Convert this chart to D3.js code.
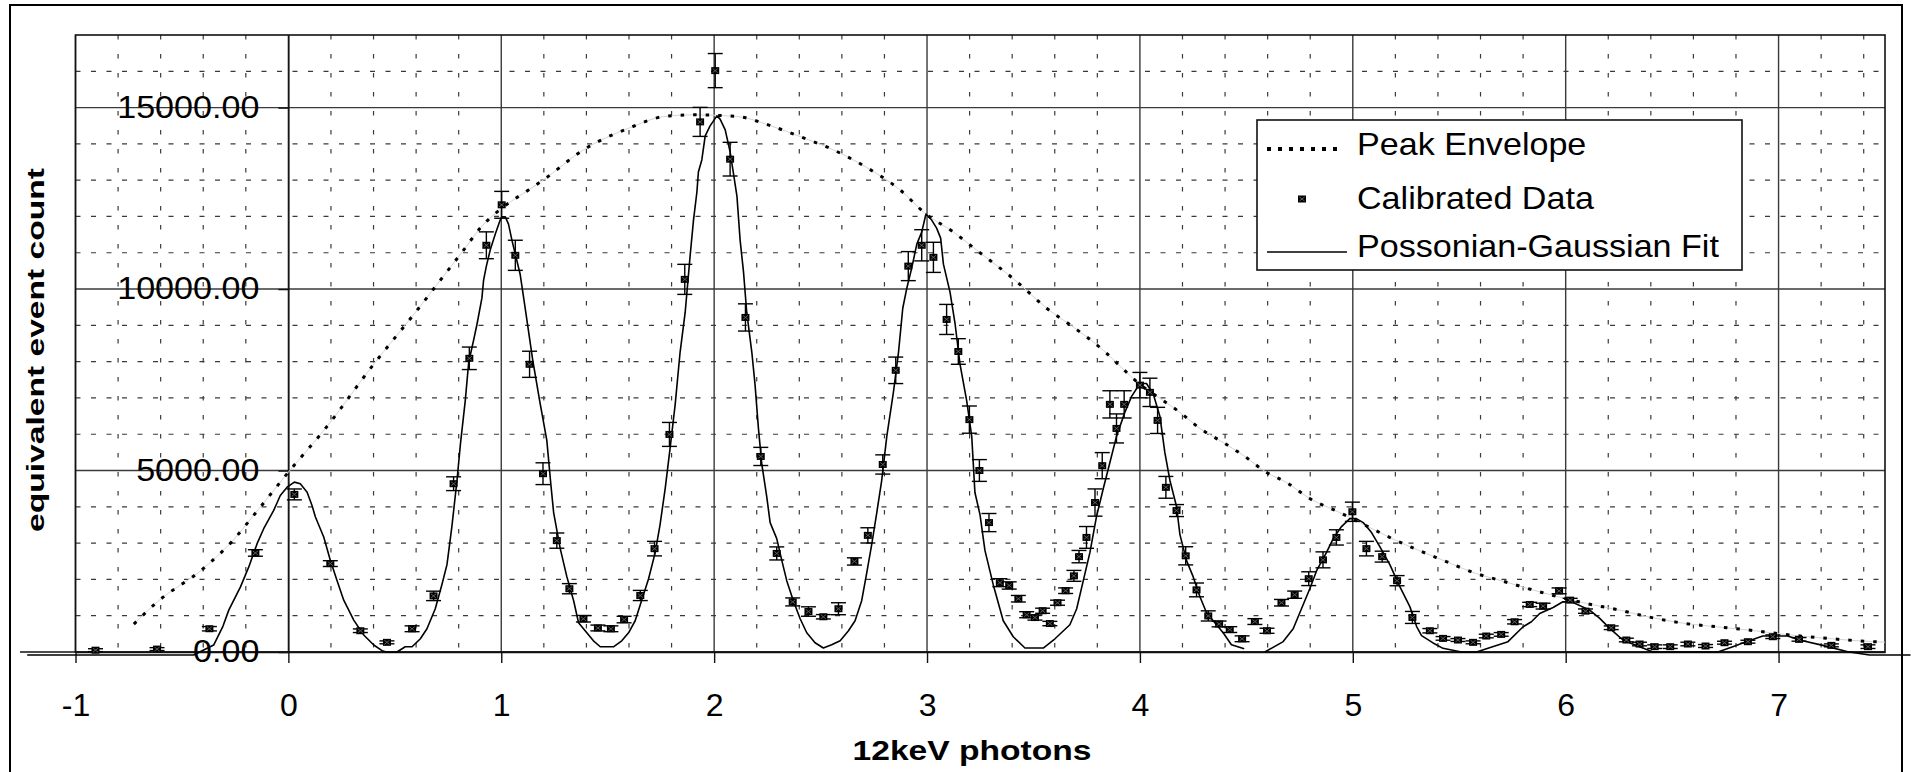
<!DOCTYPE html>
<html>
<head>
<meta charset="utf-8">
<script src="https://cdn.jsdelivr.net/npm/d3@7"></script>
<style>
  body { margin: 0; background: #fff; }
  svg { display: block; font-family: "Liberation Sans", Arial, sans-serif; }
</style>
</head>
<body>
<div class="forSvg"></div>
<script>
// -DATA-
// calibrated data points: position, count, error bar half height
const dataX = [-0.906,-0.617,-0.371,-0.155,0.028,0.197,0.338,0.463,0.581,0.682,
  0.776,0.850,0.930,1.002,1.066,1.133,1.196,1.261,1.320,1.386,
  1.454,1.515,1.577,1.653,1.720,1.790,1.862,1.934,2.005,2.075,
  2.147,2.219,2.294,2.369,2.443,2.513,2.584,2.659,2.722,2.792,
  2.853,2.912,2.975,3.030,3.092,3.147,3.199,3.246,3.291,3.342,
  3.386,3.429,3.468,3.507,3.543,3.577,3.613,3.651,3.690,3.714,
  3.749,3.789,3.823,3.859,3.890,3.926,4.000,4.047,4.083,4.122,
  4.172,4.215,4.266,4.321,4.372,4.422,4.480,4.540,4.597,4.665,
  4.727,4.793,4.860,4.923,4.998,5.064,5.138,5.208,5.280,5.362,
  5.424,5.494,5.565,5.627,5.697,5.760,5.831,5.894,5.969,6.021,
  6.093,6.214,6.285,6.347,6.418,6.491,6.574,6.657,6.746,6.856,
  6.973,7.096,7.248,7.420];
const dataY = [50,80,641,2729,4342,2436,586,266,640,1546,
  4637,8092,11206,12321,10930,7927,4913,3069,1744,916,
  662,640,894,1557,2848,5995,10267,14606,16019,13579,
  9218,5388,2716,1380,1115,971,1192,2495,3213,5167,
  7761,10632,11206,10874,9163,8280,6403,5001,3566,1910,
  1833,1468,1027,949,1137,784,1358,1689,2098,2628,
  3157,4118,5134,6823,6160,6823,7353,7154,6381,4537,
  3897,2650,1711,994,773,618,364,839,585,1358,
  1579,2020,2539,3157,3864,2848,2628,1965,952,586,
  375,330,266,440,485,833,1310,1264,1685,1429,
  1126,668,330,220,147,147,220,165,256,284,
  421,348,183,147];
const dataErr = [40,40,60,90,150,80,50,40,80,130,
  190,310,370,370,415,360,300,210,140,90,
  80,80,90,140,200,330,414,400,470,464,
  375,250,180,110,130,60,165,100,210,265,
  365,400,430,415,414,353,375,300,250,110,
  100,90,83,70,70,60,70,77,150,170,
  300,375,360,375,400,375,350,390,360,300,
  165,250,190,140,80,80,80,80,70,90,
  100,190,220,210,265,200,150,140,165,60,
  50,40,40,50,50,60,60,80,80,50,
  60,50,50,50,50,50,50,40,40,40,
  50,50,40,50];

// possonian-gaussian fit (null = gap in the line)
const fitX = [-1.227,-0.445,-0.351,-0.307,-0.280,-0.225,-0.186,-0.147,-0.116,-0.069,
  -0.038,-0.006,0.028,0.056,0.088,0.111,0.127,0.166,0.197,0.228,
  0.260,0.307,0.354,0.401,0.440,0.460,0.510,0.549,0.581,0.620,
  0.651,0.690,0.721,0.745,0.768,0.792,0.808,0.831,0.847,0.870,
  0.886,0.909,0.917,0.930,0.948,0.972,0.995,1.003,1.019,1.034,
  1.050,1.089,1.113,1.148,1.180,1.214,1.233,1.246,1.277,1.308,
  1.340,1.363,1.394,1.433,1.465,1.527,1.566,1.598,1.629,1.653,
  1.692,1.723,1.746,1.770,1.793,1.817,1.840,1.864,1.887,1.903,
  1.919,1.926,1.942,1.958,1.981,2.013,2.028,2.052,2.075,2.091,
  2.107,2.122,2.138,2.153,2.177,2.192,2.208,2.224,2.247,2.263,
  2.294,2.318,2.341,2.372,2.404,2.435,2.474,2.513,2.552,2.592,
  2.631,2.662,2.693,2.717,2.740,2.764,2.787,2.811,2.842,2.866,
  2.886,2.905,2.928,2.952,2.975,2.995,3.022,3.045,3.064,3.077,
  3.108,3.132,3.155,3.186,3.210,3.225,3.249,3.272,3.311,3.358,
  3.405,3.460,3.546,3.601,3.671,3.703,3.734,3.765,3.796,3.828,
  3.859,3.890,3.929,3.961,4.000,4.031,4.063,4.094,4.117,4.141,
  4.172,4.188,4.219,4.250,4.282,4.313,4.360,4.391,4.430,4.490,
  4.540,4.587,4.673,4.720,4.759,4.798,4.830,4.876,4.908,4.947,
  4.986,5.017,5.049,5.088,5.127,5.174,5.221,5.268,5.300,5.323,
  5.377,5.424,5.510,5.581,5.635,5.729,5.800,5.839,5.878,5.941,
  5.987,6.027,6.113,6.160,6.207,6.269,6.347,6.410,6.715,6.785,
  6.848,6.926,7.043,7.098,7.208,7.325,7.427,7.620];
const fitY = [-82,-82,192,714,1154,1795,2344,2985,3397,3901,
  4313,4542,4680,4633,4404,4038,3718,3168,2527,1978,
  1428,879,467,192,37,0,0,144,144,364,
  640,1192,1855,2407,3456,4725,5719,6933,7982,8589,
  9031,9749,10245,10632,11073,11515,11901,11989,11989,11790,
  11349,10400,9450,8037,6933,5829,4615,3842,2848,2076,
  1413,806,585,309,144,144,309,530,861,1303,
  2020,2738,3511,4504,5608,6823,8258,9362,10908,11901,
  12674,13226,13557,14219,14495,14771,14683,14385,13778,13171,
  12563,11349,10466,9362,8258,7375,6160,5167,4284,3566,
  3124,2517,1965,1413,916,530,254,110,199,309,
  585,861,1413,2186,2959,3842,4725,5940,7154,8258,
  9472,10024,10576,11239,11570,12067,11901,11680,11404,10687,
  9914,9031,7927,6933,5940,4394,3780,2800,1855,861,
  420,110,110,364,751,1192,1965,2738,3732,4504,
  5222,5940,6602,7044,7397,7397,7099,6492,5498,4725,
  4008,3235,2517,2076,1524,1082,751,530,199,88,
  null,0,287,640,1192,1744,2241,2738,3124,3456,
  3676,3676,3566,3290,2904,2407,1800,1250,700,450,
  250,101,0,0,101,284,696,833,1062,1227,
  1383,1383,1154,925,650,330,147,0,0,147,
  284,440,440,330,183,9,-82,-82];

// peak envelope
const envX = [-0.726,-0.615,-0.40,-0.267,-0.157,0.0,0.174,0.393,0.612,0.714,
  0.823,0.901,1.003,1.128,1.199,1.386,1.606,1.762,1.90,2.114,
  2.254,2.403,2.56,2.716,2.872,2.995,3.124,3.233,3.418,3.562,
  3.687,3.828,3.898,4.0,4.094,4.188,4.282,4.391,4.493,4.595,
  4.689,4.798,4.939,5.033,5.205,5.424,5.581,5.706,5.878,6.097,
  6.253,6.386,6.558,6.707,6.861,7.028,7.228,7.443,7.5];
const envY = [769,1383,2299,3032,3810,4955,6160,7871,9472,10245,
  11073,11680,12232,12729,13012,13836,14449,14751,14800,14751,
  14522,14202,13836,13351,12738,12067,11570,11073,10223,9472,
  8953,8313,7927,7375,6988,6602,6160,5774,5388,4946,
  4670,4228,3842,3566,3069,2527,2161,1950,1657,1337,
  1154,971,788,696,604,485,375,284,270];

// axis ticks & labels
const xTicks = [-1, 0, 1, 2, 3, 4, 5, 6, 7];
const yTicks = [0, 5000, 10000, 15000];
const legendLabels = ["Peak Envelope", "Calibrated Data", "Possonian-Gaussian Fit"];
const xTitle = "12keV photons";
const yTitle = "equivalent event count";

// -LAYOUT-
const svg_w = 1911, svg_h = 772;
const plot = { left: 75.5, right: 1885, top: 35, bottom: 652 };
const gridColor = "#3a3a3a";

const svg = d3.select(".forSvg")
  .append("svg")
  .attr("width", svg_w)
  .attr("height", svg_h);

const x = d3.scaleLinear().domain([-1, 7.5]).range([plot.left, plot.right]);
const y = d3.scaleLinear().domain([0, 17000]).range([plot.bottom, plot.top]);

// text drawn a bit wider than the font (the original is stretched)
function addText(parent, px, py, str, size, sx, anchor, weight, rot) {
  const g = parent.append("g")
    .attr("transform", "translate(" + px + "," + py + ")" + (rot ? " rotate(" + rot + ")" : "") + " scale(" + sx + ",1)");
  g.append("text")
    .attr("text-anchor", anchor)
    .attr("font-size", size)
    .attr("font-weight", weight || "normal")
    .attr("fill", "#000")
    .text(str);
  return g;
}

// -OUTER FRAME-
svg.append("rect")
  .attr("x", 10).attr("y", 5)
  .attr("width", 1892).attr("height", 820)
  .attr("fill", "none").attr("stroke", "#000").attr("stroke-width", 2);

// -GRID-
const minorX = d3.range(-1, 7.5001, 0.2).filter(v => Math.abs(v - Math.round(v)) > 1e-6);
const minorY = d3.range(1000, 17000, 1000).filter(v => v % 5000 !== 0);

svg.append("g").selectAll("line")
  .data(minorY).enter().append("line")
  .attr("x1", plot.left).attr("x2", plot.right)
  .attr("y1", d => y(d)).attr("y2", d => y(d))
  .attr("stroke", gridColor).attr("stroke-width", 1.2)
  .attr("stroke-dasharray", "5,10.5");

svg.append("g").selectAll("line")
  .data(minorX).enter().append("line")
  .attr("x1", d => x(d)).attr("x2", d => x(d))
  .attr("y1", plot.top).attr("y2", plot.bottom)
  .attr("stroke", gridColor).attr("stroke-width", 1.2)
  .attr("stroke-dasharray", "4.5,14.5");

svg.append("g").selectAll("line")
  .data(yTicks).enter().append("line")
  .attr("x1", plot.left).attr("x2", plot.right)
  .attr("y1", d => y(d)).attr("y2", d => y(d))
  .attr("stroke", gridColor).attr("stroke-width", 1.4);

svg.append("g").selectAll("line")
  .data(xTicks).enter().append("line")
  .attr("x1", d => x(d)).attr("x2", d => x(d))
  .attr("y1", plot.top).attr("y2", plot.bottom)
  .attr("stroke", gridColor).attr("stroke-width", 1.4);

// plot area border
svg.append("rect")
  .attr("x", plot.left).attr("y", plot.top)
  .attr("width", plot.right - plot.left).attr("height", plot.bottom - plot.top)
  .attr("fill", "none").attr("stroke", "#111").attr("stroke-width", 1.6);

// zero line runs a little past the plot on the left
svg.append("line")
  .attr("x1", 20).attr("x2", plot.left)
  .attr("y1", y(0)).attr("y2", y(0))
  .attr("stroke", "#111").attr("stroke-width", 1.4);

// -AXES-
const xAxis = svg.append("g")
  .attr("transform", "translate(0," + y(0) + ")")
  .call(d3.axisBottom(x).tickValues(xTicks).tickFormat(d3.format("d"))
    .tickSize(11).tickSizeOuter(0).tickPadding(30));
xAxis.select(".domain").attr("stroke", "#111").attr("stroke-width", 1.4);
xAxis.selectAll(".tick line").attr("stroke", "#111").attr("stroke-width", 1.4);
xAxis.selectAll("text")
  .attr("font-family", "Liberation Sans, Arial, sans-serif")
  .attr("font-size", 32).attr("fill", "#000")
  .text(d => d3.format("d")(d).replace("\u2212", "-"));

const yAxis = svg.append("g")
  .attr("transform", "translate(" + x(0) + ",0)")
  .call(d3.axisLeft(y).tickValues(yTicks).tickFormat(d3.format(".2f"))
    .tickSize(10).tickSizeOuter(0).tickPadding(19));
yAxis.select(".domain").attr("stroke", "#111").attr("stroke-width", 1.4);
yAxis.selectAll(".tick line").attr("stroke", "#111").attr("stroke-width", 1.4);
yAxis.selectAll("text")
  .attr("font-family", "Liberation Sans, Arial, sans-serif")
  .attr("font-size", 31).attr("fill", "#000")
  .attr("x", -29 / 1.1)
  .attr("transform", "scale(1.1,1)");

// -PEAK ENVELOPE-
const envData = envX.map((v, i) => [v, envY[i]]);
const envLine = d3.line().x(d => x(d[0])).y(d => y(d[1])).curve(d3.curveMonotoneX);

svg.append("path")
  .datum(envData)
  .attr("d", envLine)
  .attr("fill", "none").attr("stroke", "#d4d4d4").attr("stroke-width", 1);

svg.append("path")
  .datum(envData)
  .attr("d", envLine)
  .attr("fill", "none").attr("stroke", "#000").attr("stroke-width", 3)
  .attr("stroke-dasharray", "3.5,9");

// -FIT-
const fitData = fitX.map((v, i) => [v, fitY[i]]);
svg.append("path")
  .datum(fitData)
  .attr("d", d3.line().defined(d => d[1] !== null).x(d => x(d[0])).y(d => y(d[1])))
  .attr("fill", "none").attr("stroke", "#000").attr("stroke-width", 1.6)
  .attr("stroke-linejoin", "round");

// -CALIBRATED DATA-
const pts = dataX.map((v, i) => ({ x: v, y: dataY[i], e: dataErr[i] }));
const bars = svg.append("g").attr("stroke", "#000").attr("stroke-width", 1.4);
const capW = 7.5;

bars.selectAll(".err")
  .data(pts).enter().append("line")
  .attr("x1", d => x(d.x)).attr("x2", d => x(d.x))
  .attr("y1", d => y(d.y + d.e)).attr("y2", d => y(d.y - d.e));
bars.selectAll(".capTop")
  .data(pts).enter().append("line")
  .attr("x1", d => x(d.x) - capW).attr("x2", d => x(d.x) + capW)
  .attr("y1", d => y(d.y + d.e)).attr("y2", d => y(d.y + d.e));
bars.selectAll(".capBot")
  .data(pts).enter().append("line")
  .attr("x1", d => x(d.x) - capW).attr("x2", d => x(d.x) + capW)
  .attr("y1", d => y(d.y - d.e)).attr("y2", d => y(d.y - d.e));

function drawMarker(parent, cx, cy) {
  const g = parent.append("g").attr("transform", "translate(" + cx + "," + cy + ")");
  g.append("rect").attr("x", -4).attr("y", -3.5).attr("width", 8).attr("height", 7)
    .attr("fill", "#000");
  g.append("path").attr("d", "M-2.5,-2L2.5,2M-2.5,2L2.5,-2")
    .attr("stroke", "#666").attr("stroke-width", 0.9).attr("fill", "none");
}
const markers = svg.append("g");
pts.forEach(d => drawMarker(markers, x(d.x), y(d.y)));

// -LEGEND-
const legend = svg.append("g").attr("id", "legend");
legend.append("rect")
  .attr("x", 1257).attr("y", 120).attr("width", 485).attr("height", 150)
  .attr("fill", "#fff").attr("stroke", "#111").attr("stroke-width", 1.6);

legend.append("line")
  .attr("x1", 1267).attr("x2", 1338).attr("y1", 149).attr("y2", 149)
  .attr("stroke", "#000").attr("stroke-width", 4).attr("stroke-dasharray", "4,7");
drawMarker(legend, 1302, 199);
legend.append("line")
  .attr("x1", 1267).attr("x2", 1347).attr("y1", 252).attr("y2", 252)
  .attr("stroke", "#000").attr("stroke-width", 1.4);

const legendBase = [155, 209, 257];
legendLabels.forEach((t, i) => addText(legend, 1357, legendBase[i], t, 31, 1.1, "start"));

// -TITLES-
addText(svg, 972, 760, xTitle, 28, 1.2, "middle", "bold");
addText(svg, 44, 350, yTitle, 24, 1.4, "middle", "bold", -90);
</script>
</body>
</html>
